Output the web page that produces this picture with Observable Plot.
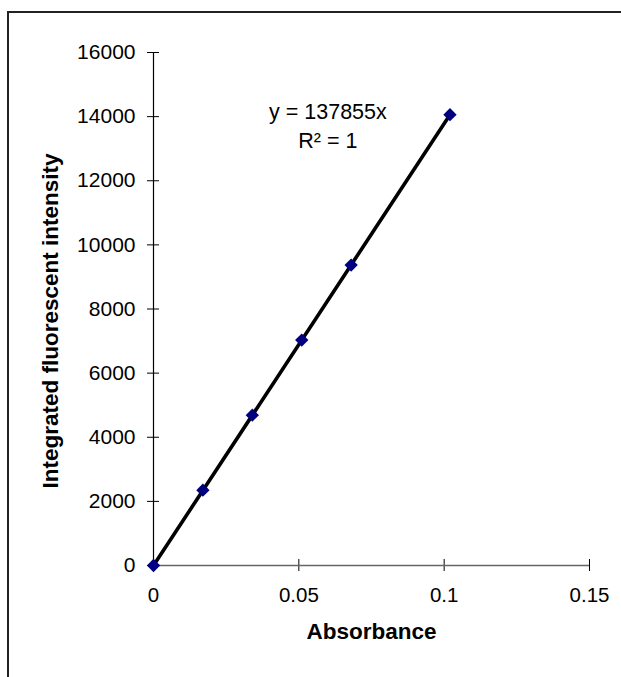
<!DOCTYPE html>
<html>
<head>
<meta charset="utf-8">
<script src="https://cdn.jsdelivr.net/npm/d3@7"></script>
<script src="https://cdn.jsdelivr.net/npm/@observablehq/plot@0.6"></script>
<style>
  html, body { margin: 0; padding: 0; background: #fff; overflow: hidden; }
  #wrap { position: relative; width: 621px; height: 677px; }
  #frame { position: absolute; left: 7px; top: 11px; width: 640px; height: 700px;
           border-top: 2px solid #222; border-left: 2px solid #222; }
  #chart { position: absolute; left: 0; top: 0; }
</style>
</head>
<body>
<div id="wrap"><div id="frame"></div><div id="chart"></div></div>
<script>
// Calibration: absorbance vs integrated fluorescent intensity
const absorbance = [0, 0.017, 0.034, 0.051, 0.068, 0.102];
const intensity = [0, 2350, 4690, 7030, 9370, 14060];

// Linear fit through the origin
const slope = 137855;
const rSquared = 1;

const xTicks = [0, 0.05, 0.1, 0.15];
const xTickLabels = ["0", "0.05", "0.1", "0.15"];
const yTicks = [0, 2000, 4000, 6000, 8000, 10000, 12000, 14000, 16000];
const yTickLabels = ["0", "2000", "4000", "6000", "8000", "10000", "12000", "14000", "16000"];

const xTitle = "Absorbance";
const yTitle = "Integrated fluorescent intensity";

const points = absorbance.map((a, i) => ({a, v: intensity[i]}));
const xMax = d3.max(absorbance);
const fitLine = [0, xMax].map(a => ({a, v: slope * a}));
const equation = [
  {a: 0.06, v: 14140, t: `y = ${slope}x`},
  {a: 0.06, v: 13235, t: `R² = ${rSquared}`}
];

const font = "'Liberation Sans', Arial, Helvetica, sans-serif";
const blank = () => "";

const chart = Plot.plot({
  width: 621,
  height: 677,
  marginLeft: 153,
  marginRight: 32,
  marginTop: 52,
  marginBottom: 112,
  style: {fontFamily: font, fontSize: "20px", background: "transparent", color: "#000"},
  x: {domain: [0, 0.15]},
  y: {domain: [0, 16000]},
  marks: [
    // crossing tick marks (shifted so they straddle the axis lines)
    Plot.axisY({ticks: yTicks, tickSize: 12, dx: 6, tickFormat: blank, label: null, stroke: "#000"}),
    Plot.axisX({ticks: xTicks, tickSize: 12, dy: -6, tickFormat: blank, label: null, stroke: "#000"}),
    // tick labels
    Plot.axisY({ticks: yTicks, tickSize: 0, tickPadding: 18, fontSize: 21, label: null,
      tickFormat: d => yTickLabels[yTicks.indexOf(d)]}),
    Plot.axisX({ticks: xTicks, tickSize: 0, tickPadding: 22, fontSize: 20.5, label: null,
      tickFormat: d => xTickLabels[xTicks.indexOf(d)]}),
    Plot.ruleY([0], {stroke: "#666", strokeWidth: 1.6}),
    Plot.ruleX([0], {stroke: "#000", strokeWidth: 1.2}),
    Plot.line(fitLine, {x: "a", y: "v", stroke: "#000", strokeWidth: 3.6}),
    Plot.dot(points, {x: "a", y: "v", symbol: "diamond2", r: 6, fill: "#000080", stroke: "none"}),
    Plot.text(equation, {x: "a", y: "v", text: "t", fontSize: 21.5, fill: "#000", lineAnchor: "middle"}),
    Plot.text([xTitle], {frameAnchor: "bottom", dy: 73, fontSize: 22.5, fontWeight: "bold", fill: "#000"}),
    Plot.text([yTitle], {frameAnchor: "left", textAnchor: "middle", dx: -103, dy: 12, rotate: -90,
      fontSize: 22.5, fontWeight: "bold", fill: "#000"})
  ]
});

document.getElementById("chart").appendChild(chart);
</script>
</body>
</html>
